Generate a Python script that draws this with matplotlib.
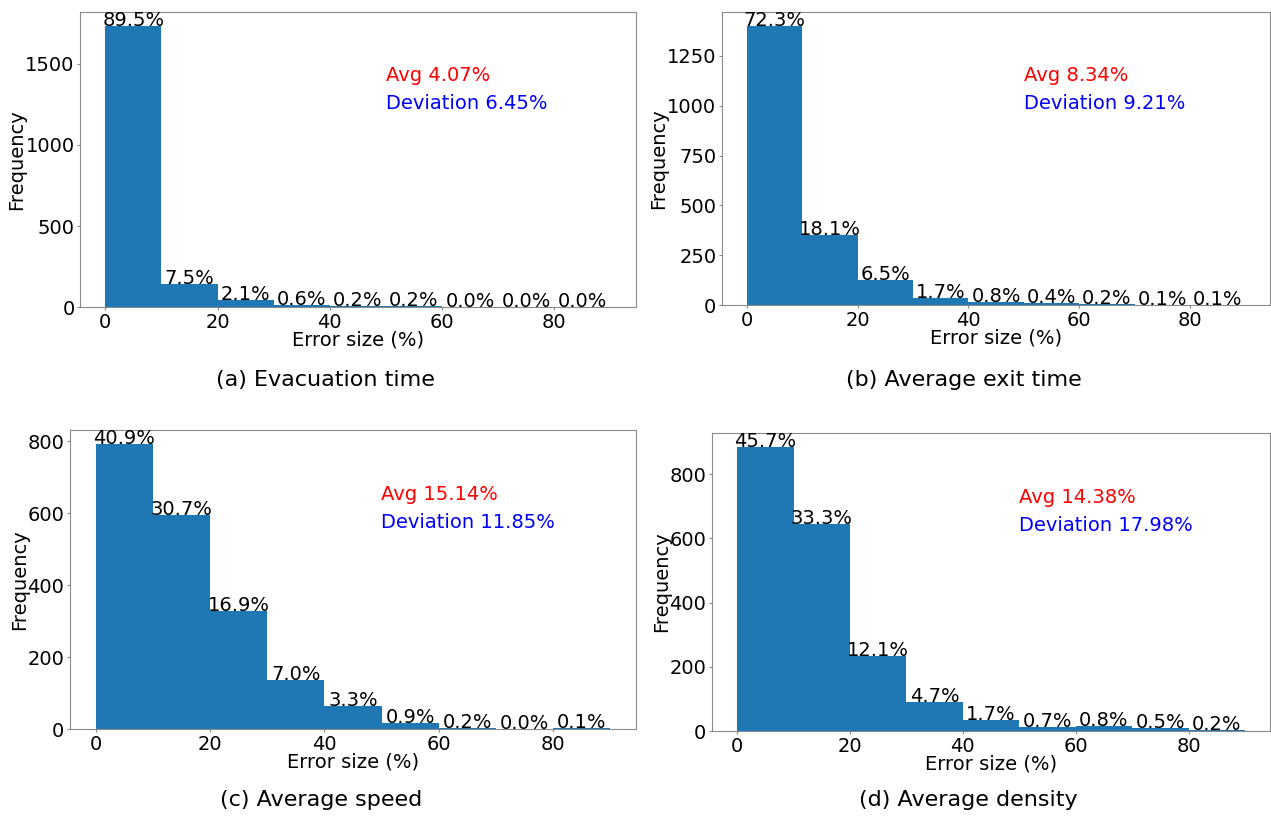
import matplotlib
matplotlib.use("Agg")
import matplotlib.pyplot as plt
import numpy as np

# Share of runs (%) per 10%-wide error bin, one list per metric
bin_edges = [0, 10, 20, 30, 40, 50, 60, 70, 80, 90]
n_runs = 1935

evac_pct = [89.5, 7.5, 2.1, 0.6, 0.2, 0.2, 0.0, 0.0, 0.0]
exit_pct = [72.3, 18.1, 6.5, 1.7, 0.8, 0.4, 0.2, 0.1, 0.1]
speed_pct = [40.9, 30.7, 16.9, 7.0, 3.3, 0.9, 0.2, 0.0, 0.1]
density_pct = [45.7, 33.3, 12.1, 4.7, 1.7, 0.7, 0.8, 0.5, 0.2]

avgs = [4.07, 8.34, 15.14, 14.38]
devs = [6.45, 9.21, 11.85, 17.98]
captions = ["(a) Evacuation time", "(b) Average exit time",
            "(c) Average speed", "(d) Average density"]

fig = plt.figure(figsize=(12.71, 8.21), dpi=100)

# axes boxes [left, bottom, width, height]
boxes = [
    [0.063, 0.626, 0.437, 0.359],
    [0.568, 0.6285, 0.4315, 0.3565],
    [0.055, 0.112, 0.4455, 0.364],
    [0.560, 0.1096, 0.4395, 0.363],
]
caption_pos = [(0.256, 0.537), (0.758, 0.537), (0.253, 0.025), (0.762, 0.025)]

series = [evac_pct, exit_pct, speed_pct, density_pct]

for i, pct in enumerate(series):
    ax = fig.add_axes(boxes[i])
    pct = np.array(pct)
    counts = pct / 100.0 * n_runs
    left = np.array(bin_edges[:-1])
    ax.bar(left, counts, width=10, align="edge", color="#1f77b4", linewidth=0)
    # percentage label sitting on top of each bin
    for x, c, p in zip(left, counts, pct):
        ax.text(x + 5, c, "%.1f%%" % p, ha="center", va="baseline",
                fontsize=14)
    ax.margins(x=0.05, y=0.05)
    ax.set_ylim(bottom=0)
    ax.set_xticks([0, 20, 40, 60, 80])
    ax.tick_params(labelsize=14, length=2, pad=2, color="#8a8a8a")
    ax.set_xlabel("Error size (%)", fontsize=14, labelpad=-1)
    ax.set_ylabel("Frequency", fontsize=14, labelpad=-1)
    for s in ax.spines.values():
        s.set_color("#8a8a8a")
    ax.text(0.55, 0.785, "Avg %.2f%%" % avgs[i], color="red", fontsize=14,
            transform=ax.transAxes, va="center")
    ax.text(0.55, 0.69, "Deviation %.2f%%" % devs[i], color="blue",
            fontsize=14, transform=ax.transAxes, va="center")
    fig.text(caption_pos[i][0], caption_pos[i][1], captions[i],
             ha="center", va="center", fontsize=16)

fig.savefig("out.png", dpi=100)
